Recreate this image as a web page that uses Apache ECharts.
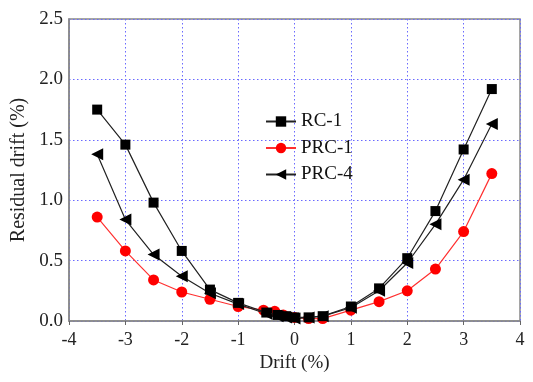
<!DOCTYPE html>
<html><head><meta charset="utf-8">
<script src="https://cdn.jsdelivr.net/npm/echarts@6/dist/echarts.min.js"></script>
<style>html,body{margin:0;padding:0;background:#fff}#c{width:533px;height:382px}</style>
</head><body><div id="c"></div>
<script>
var seriesNames = ['RC-1', 'PRC-1', 'PRC-4'];
var xTicks = [-4, -3, -2, -1, 0, 1, 2, 3, 4];
var driftRC1 = [-3.5, -3, -2.5, -2, -1.5, -1, -0.5, -0.3, -0.15, 0, 0.25, 0.5, 1, 1.5, 2, 2.5, 3, 3.5];
var residRC1 = [1.75, 1.46, 0.98, 0.58, 0.26, 0.15, 0.07, 0.05, 0.04, 0.03, 0.03, 0.04, 0.12, 0.27, 0.52, 0.91, 1.42, 1.92];
var driftPRC1 = [-3.5, -3, -2.5, -2, -1.5, -1, -0.55, -0.35, -0.2, 0, 0.25, 0.5, 1, 1.5, 2, 2.5, 3, 3.5];
var residPRC1 = [0.86, 0.58, 0.34, 0.24, 0.18, 0.12, 0.09, 0.08, 0.05, 0.03, 0.02, 0.02, 0.09, 0.16, 0.25, 0.43, 0.74, 1.22];
var driftPRC4 = [-3.5, -3, -2.5, -2, -1.5, -1, -0.5, -0.3, -0.15, 0, 0.25, 0.5, 1, 1.5, 2, 2.5, 3, 3.5];
var residPRC4 = [1.38, 0.84, 0.55, 0.37, 0.23, 0.14, 0.06, 0.04, 0.03, 0.02, 0.03, 0.04, 0.11, 0.25, 0.48, 0.80, 1.17, 1.63];

function pairs(xs, ys) { return xs.map(function (x, i) { return [x, ys[i]]; }); }
var font = '"Liberation Serif", "Times New Roman", serif';
var grid = { color: '#6a6aff', type: [1.5, 2.5], width: 1 };
var chart = echarts.init(document.getElementById('c'), null, { renderer: 'canvas' });
chart.setOption({
  animation: false,
  backgroundColor: '#fff',
  grid: { left: 69, right: 13, top: 19, bottom: 61, show: true, borderColor: '#888', borderWidth: 1.5, backgroundColor: 'transparent' },
  legend: {
    data: seriesNames, orient: 'vertical', left: 260, top: 107,
    itemWidth: 30, itemHeight: 13, itemGap: 7.5,
    textStyle: { fontFamily: font, fontSize: 19, color: '#111' }
  },
  xAxis: {
    type: 'value', min: -4, max: 4, interval: 1,
    name: 'Drift (%)', nameLocation: 'middle', nameGap: 33,
    nameTextStyle: { fontFamily: font, fontSize: 19, color: '#222' },
    axisLine: { show: true, onZero: false, lineStyle: { color: '#888', width: 1.5 } },
    axisTick: { show: true, inside: false, length: 4, lineStyle: { color: '#666' } },
    axisLabel: { fontFamily: font, fontSize: 18, color: '#222', margin: 10 },
    splitLine: { show: true, lineStyle: grid }
  },
  yAxis: {
    type: 'value', min: 0, max: 2.5, interval: 0.5,
    name: 'Residual drift (%)', nameLocation: 'middle', nameGap: 38,
    nameTextStyle: { fontFamily: font, fontSize: 20, color: '#222' },
    axisLine: { show: true, onZero: false, lineStyle: { color: '#888', width: 1.5 } },
    axisTick: { show: false },
    axisLabel: { fontFamily: font, fontSize: 19, color: '#222', margin: 6, formatter: function (v) { return v.toFixed(1); } },
    splitLine: { show: true, lineStyle: grid }
  },
  series: [
    { name: 'PRC-1', type: 'line', z: 2, data: pairs(driftPRC1, residPRC1), symbol: 'circle', symbolSize: 11,
      lineStyle: { color: '#ff3030', width: 1.2 }, itemStyle: { color: '#ff0000' } },
    { name: 'PRC-4', type: 'line', z: 3, data: pairs(driftPRC4, residPRC4), symbol: 'triangle', symbolSize: 12, symbolRotate: 90,
      lineStyle: { color: '#222', width: 1.2 }, itemStyle: { color: '#000' } },
    { name: 'RC-1', type: 'line', z: 4, data: pairs(driftRC1, residRC1), symbol: 'rect', symbolSize: 10,
      lineStyle: { color: '#222', width: 1.2 }, itemStyle: { color: '#000' } }
  ]
});
</script></body></html>
